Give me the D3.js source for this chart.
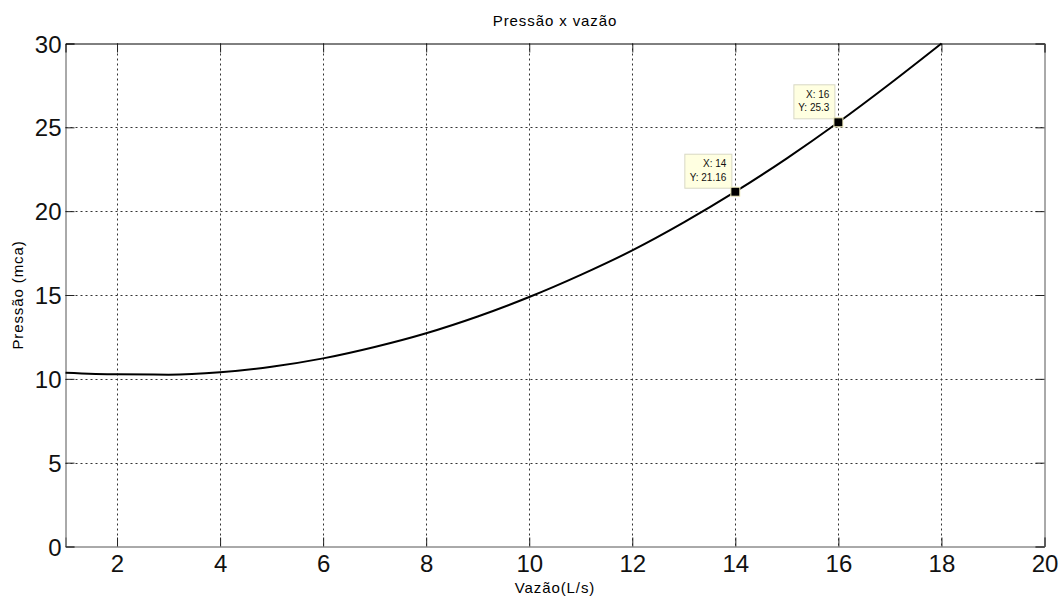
<!DOCTYPE html>
<html>
<head>
<meta charset="utf-8">
<script src="https://cdn.jsdelivr.net/npm/d3@7"></script>
<style>
  html, body { margin: 0; padding: 0; background: #fff; }
  svg { display: block; font-family: "Liberation Sans", Arial, Helvetica, sans-serif; }
</style>
</head>
<body>
<svg id="chart" width="1063" height="598"></svg>
<script>
// Vazão (L/s) x pressão (mca) curve samples
const flowRates = [1, 2, 3, 4, 5, 6, 7, 8, 9, 10, 11, 12, 13, 14, 15, 16, 17, 18];
const pressures = [10.37, 10.27, 10.25, 10.39, 10.72, 11.22, 11.9, 12.72, 13.72, 14.88, 16.2, 17.66, 19.33, 21.16, 23.15, 25.3, 27.6, 30.0];

// Highlighted data tips
const tipFlows = [14, 16];
const tipPressures = [21.16, 25.3];
const tipLabelsX = ["X: 14", "X: 16"];
const tipLabelsY = ["Y: 21.16", "Y: 25.3"];

const xTicks = [2, 4, 6, 8, 10, 12, 14, 16, 18, 20];
const yTicks = [0, 5, 10, 15, 20, 25, 30];

const chartTitle = "Pressão x vazão";
const xTitle = "Vazão(L/s)";
const yTitle = "Pressão (mca)";

const svg = d3.select("#chart");
const plotLeft = 65.5, plotRight = 1044.5, plotTop = 43.5, plotBottom = 546.5;

const x = d3.scaleLinear().domain([1, 20]).range([plotLeft, plotRight]);
const y = d3.scaleLinear().domain([0, 30]).range([plotBottom, plotTop]);

// grid
const grid = svg.append("g").attr("stroke", "#333").attr("stroke-width", 1)
  .attr("stroke-dasharray", "2,3");
grid.selectAll("line.vx").data(xTicks.filter(d => d < 20)).join("line")
  .attr("x1", d => Math.round(x(d)) + 0.5).attr("x2", d => Math.round(x(d)) + 0.5)
  .attr("y1", plotTop).attr("y2", plotBottom);
grid.selectAll("line.hy").data(yTicks.filter(d => d > 0 && d < 30)).join("line")
  .attr("y1", d => Math.round(y(d)) + 0.5).attr("y2", d => Math.round(y(d)) + 0.5)
  .attr("x1", plotLeft).attr("x2", plotRight);

// axes with inward ticks
const axisFont = 24;
const xAxis = d3.axisBottom(x).tickValues(xTicks).tickSize(-9).tickPadding(8).tickFormat(d3.format("d"));
const yAxis = d3.axisLeft(y).tickValues(yTicks).tickSize(-9).tickPadding(4).tickFormat(d3.format("d"));
const xTop = d3.axisTop(x).tickValues(xTicks).tickSize(-9).tickFormat("");
const yRight = d3.axisRight(y).tickValues(yTicks).tickSize(-9).tickFormat("");

function styleAxis(g) {
  g.select(".domain").attr("stroke", "#555").attr("stroke-width", 1);
  g.selectAll(".tick line").attr("stroke", "#222");
  g.selectAll(".tick text").attr("fill", "#111").style("font-size", axisFont + "px")
    .style("font-family", '"Liberation Sans", Arial, sans-serif');
}
svg.append("g").attr("transform", `translate(0,${plotBottom})`).call(xAxis).call(styleAxis);
svg.append("g").attr("transform", `translate(${plotLeft},0)`).call(yAxis).call(styleAxis)
  .selectAll(".tick text").attr("dy", "0.36em");
svg.append("g").attr("transform", `translate(0,${plotTop})`).call(xTop).call(styleAxis)
  .select(".domain").attr("stroke", "#000");
svg.append("g").attr("transform", `translate(${plotRight},0)`).call(yRight).call(styleAxis);

// curve
const pts = flowRates.map((f, i) => [f, pressures[i]]);
svg.append("path").datum(pts)
  .attr("fill", "none").attr("stroke", "#000").attr("stroke-width", 2)
  .attr("d", d3.line().curve(d3.curveMonotoneX).x(d => x(d[0])).y(d => y(d[1])));

// data tips
const tips = tipFlows.map((f, i) => ({ f, p: tipPressures[i], lx: tipLabelsX[i], ly: tipLabelsY[i] }));
const tg = svg.append("g").selectAll("g").data(tips).join("g");
const boxW = [47, 41];
tg.each(function(d, i) {
  const g = d3.select(this);
  const cx = x(d.f), cy = y(d.p);
  const bw = boxW[i], bh = 34;
  const bx = cx - 4 - bw, by = cy - 4 - bh;
  g.append("rect").attr("x", bx + 0.5).attr("y", by + 0.5).attr("width", bw).attr("height", bh)
    .attr("fill", "#ffffe1").attr("stroke", "#d8d8c4");
  g.append("text").attr("x", bx + bw - 5).attr("y", by + 13.5).attr("text-anchor", "end")
    .style("font-size", "10px").attr("fill", "#111").text(d.lx);
  g.append("text").attr("x", bx + bw - 5).attr("y", by + 27).attr("text-anchor", "end")
    .style("font-size", "10px").attr("fill", "#111").text(d.ly);
  g.append("rect").attr("x", cx - 4.5).attr("y", cy - 4.5).attr("width", 9).attr("height", 9)
    .attr("fill", "#000").attr("stroke", "#f4f0c0").attr("stroke-width", 1);
});

// titles
svg.append("text").attr("x", (plotLeft + plotRight) / 2).attr("y", 26).attr("text-anchor", "middle")
  .style("font-size", "15px").style("letter-spacing", "0.9px").text(chartTitle);
svg.append("text").attr("x", (plotLeft + plotRight) / 2).attr("y", 593).attr("text-anchor", "middle")
  .style("font-size", "15px").style("letter-spacing", "0.9px").text(xTitle);
svg.append("text").attr("transform", `translate(23,${(plotTop + plotBottom) / 2}) rotate(-90)`)
  .attr("text-anchor", "middle").style("font-size", "15px").style("letter-spacing", "0.9px").text(yTitle);
</script>
</body>
</html>
